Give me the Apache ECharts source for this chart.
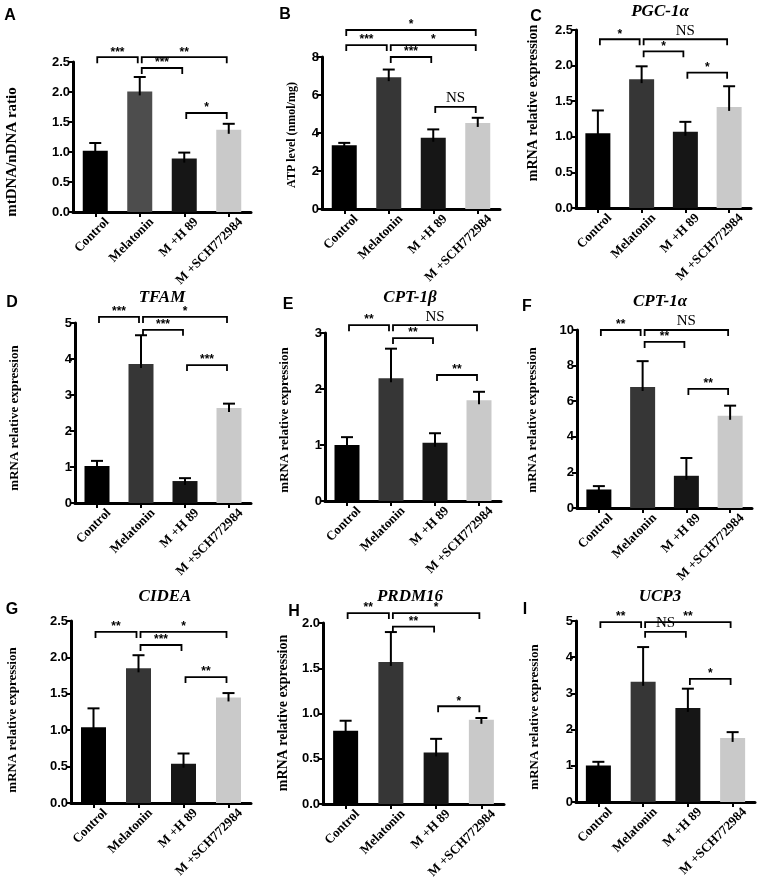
<!DOCTYPE html>
<html><head><meta charset="utf-8">
<script src="https://cdn.jsdelivr.net/npm/echarts@6/dist/echarts.min.js"></script>
<style>html,body{margin:0;padding:0;background:#fff}#c{width:760px;height:887px}</style>
</head><body><div id="c"></div>
<script>
// ---------- data ----------
const categories = ['Control', 'Melatonin', 'M +H 89', 'M +SCH772984'];

const meanA = [1.02, 2.01, 0.89, 1.37]; const semA = [0.13, 0.24, 0.10, 0.10];
const meanB = [3.36, 6.94, 3.75, 4.53]; const semB = [0.12, 0.40, 0.44, 0.27];
const meanC = [1.05, 1.81, 1.07, 1.42]; const semC = [0.32, 0.18, 0.14, 0.29];
const meanD = [1.03, 3.86, 0.61, 2.64]; const semD = [0.14, 0.80, 0.08, 0.12];
const meanE = [1.00, 2.19, 1.04, 1.80]; const semE = [0.14, 0.53, 0.17, 0.15];
const meanF = [1.04, 6.80, 1.81, 5.18]; const semF = [0.19, 1.45, 1.00, 0.57];
const meanG = [1.04, 1.85, 0.54, 1.45]; const semG = [0.26, 0.18, 0.14, 0.06];
const meanH = [0.81, 1.57, 0.57, 0.93]; const semH = [0.11, 0.33, 0.15, 0.02];
const meanI = [1.01, 3.32, 2.60, 1.77]; const semI = [0.10, 0.96, 0.53, 0.16];

// significance brackets: [from category, to category, height (axis units), label]
const sigA = [[0, 1, 2.58, '***'], [1, 3, 2.58, '**'], [1, 2, 2.40, '***'], [2, 3, 1.65, '*']];
const sigB = [[0, 3, 9.42, '*'], [0, 1, 8.63, '***'], [1, 3, 8.63, '*'], [1, 2, 8.0, '***'], [2, 3, 5.37, 'NS']];
const sigC = [[0, 1, 2.37, '*'], [1, 3, 2.37, 'NS'], [1, 2, 2.20, '*'], [2, 3, 1.90, '*']];
const sigD = [[0, 1, 5.17, '***'], [1, 3, 5.17, '*'], [1, 2, 4.81, '***'], [2, 3, 3.83, '***']];
const sigE = [[0, 1, 3.14, '**'], [1, 3, 3.14, 'NS'], [1, 2, 2.91, '**'], [2, 3, 2.25, '**']];
const sigF = [[0, 1, 10.0, '**'], [1, 3, 10.0, 'NS'], [1, 2, 9.33, '**'], [2, 3, 6.69, '**']];
const sigG = [[0, 1, 2.35, '**'], [1, 3, 2.35, '*'], [1, 2, 2.17, '***'], [2, 3, 1.73, '**']];
const sigH = [[0, 1, 2.11, '**'], [1, 3, 2.11, '*'], [1, 2, 1.96, '**'], [2, 3, 1.08, '*']];
const sigI = [[0, 1, 4.97, '**'], [1, 3, 4.97, '**'], [1, 2, 4.70, 'NS'], [2, 3, 3.40, '*']];

const yMax = [2.5, 8, 2.5, 5, 3, 10, 2.5, 2, 5];
const yStep = [0.5, 2, 0.5, 1, 1, 2, 0.5, 0.5, 1];
const yDecimals = [1, 0, 1, 0, 0, 0, 1, 1, 0];

const panelLetters = ['A', 'B', 'C', 'D', 'E', 'F', 'G', 'H', 'I'];
const geneTitles = ['', '', 'PGC-1α', 'TFAM', 'CPT-1β', 'CPT-1α', 'CIDEA', 'PRDM16', 'UCP3'];
const yNames = ['mtDNA/nDNA ratio', 'ATP level (nmol/mg)', 'mRNA relative expression',
  'mRNA relative expression', 'mRNA relative expression', 'mRNA relative expression',
  'mRNA relative expression', 'mRNA relative expression', 'mRNA relative expression'];

// ---------- layout ----------
const means = [meanA, meanB, meanC, meanD, meanE, meanF, meanG, meanH, meanI];
const sems = [semA, semB, semC, semD, semE, semF, semG, semH, semI];
const sigs = [sigA, sigB, sigC, sigD, sigE, sigF, sigG, sigH, sigI];

const grids = [
  {left: 73, top: 62, width: 178, height: 150},
  {left: 322, top: 57, width: 178, height: 152},
  {left: 576, top: 30, width: 175, height: 178},
  {left: 75, top: 323, width: 176, height: 180},
  {left: 325, top: 333, width: 176, height: 168},
  {left: 577, top: 330, width: 175, height: 178},
  {left: 71, top: 621, width: 180, height: 182},
  {left: 323, top: 623, width: 181, height: 181},
  {left: 576, top: 621, width: 179, height: 181}
];
const letterPos = [[10, 16], [285, 15], [536, 17], [12, 303], [288, 305], [527, 307], [12, 610], [294, 612], [525, 610]];
const titlePos = [[0, 0], [0, 0], [660, 12], [162, 298], [410, 298], [660, 302], [165, 597], [410, 597], [660, 597]];
const yNamePos = [[12, 152], [292, 135], [533, 103], [15, 418], [285, 420], [533, 420], [13, 720], [283, 713], [535, 717]];
const yNameSize = [15, 12, 14, 13, 13, 13, 13, 14, 13];

const melColor = ['#4d4d4d', '#363636', '#363636', '#363636', '#363636', '#363636', '#363636', '#363636', '#363636'];
const barColors = (p) => ['#000000', melColor[p], '#161616', '#c9c9c9'];

const serif = '"Liberation Serif", "Times New Roman", serif';
const sans = '"Liberation Sans", Arial, sans-serif';

function renderErr(params, api) {
  const i = api.value(0), m = api.value(1), t = api.value(2);
  const a = api.coord([i, m]), b = api.coord([i, t]);
  return {type: 'group', children: [
    {type: 'line', shape: {x1: a[0], y1: a[1] + 4, x2: b[0], y2: b[1]}, style: {stroke: '#000', lineWidth: 2}},
    {type: 'line', shape: {x1: b[0] - 6, y1: b[1], x2: b[0] + 6, y2: b[1]}, style: {stroke: '#000', lineWidth: 2}}
  ]};
}
function mkBracket(list) {
  return function (params, api) {
    const s = list[params.dataIndex];
    const p1 = api.coord([s[0], s[2]]), p2 = api.coord([s[1], s[2]]);
    const x1 = p1[0] + 2, x2 = p2[0] - 2, y = p1[1];
    const isNS = s[3] === 'NS';
    return {type: 'group', children: [
      {type: 'polyline', shape: {points: [[x1, y + 6], [x1, y], [x2, y], [x2, y + 6]]},
        style: {stroke: '#000', lineWidth: 1.8, fill: null}},
      {type: 'text', x: (x1 + x2) / 2, y: isNS ? y - 1 : y + 1,
        style: {text: s[3], textAlign: 'center', textVerticalAlign: 'bottom',
          font: isNS ? 'normal 15px ' + serif : 'bold 12px ' + sans, fill: '#000'}}
    ]};
  };
}

const option = {animation: false, backgroundColor: '#fff', grid: [], xAxis: [], yAxis: [], series: [], graphic: []};

for (let p = 0; p < 9; p++) {
  option.grid.push(Object.assign({containLabel: false}, grids[p]));
  option.xAxis.push({
    type: 'category', gridIndex: p, data: categories,
    axisLine: {show: true, lineStyle: {color: '#000', width: 3}},
    axisTick: {show: true, alignWithLabel: true, length: 5, lineStyle: {color: '#000', width: 2}},
    axisLabel: {interval: 0, rotate: 45, margin: 20, padding: [0, -17, 0, 0], color: '#000',
      fontFamily: serif, fontWeight: 'bold', fontSize: 13},
    splitLine: {show: false}
  });
  option.yAxis.push({
    type: 'value', gridIndex: p, min: 0, max: yMax[p], interval: yStep[p],
    axisLine: {show: true, lineStyle: {color: '#000', width: 3}},
    axisTick: {show: true, length: 5, lineStyle: {color: '#000', width: 2}},
    axisLabel: {margin: 3, color: '#000', fontFamily: sans, fontWeight: 'bold', fontSize: 13,
      formatter: (v) => v.toFixed(yDecimals[p])},
    splitLine: {show: false}
  });
  const cols = barColors(p);
  option.series.push({
    type: 'bar', xAxisIndex: p, yAxisIndex: p, barWidth: 25,
    data: means[p].map((v, i) => ({value: v, itemStyle: {color: cols[i]}}))
  });
  option.series.push({
    type: 'custom', xAxisIndex: p, yAxisIndex: p, z: 5, renderItem: renderErr,
    data: means[p].map((v, i) => [i, v, v + sems[p][i]])
  });
  option.series.push({
    type: 'custom', xAxisIndex: p, yAxisIndex: p, z: 5, clip: false, renderItem: mkBracket(sigs[p]),
    data: sigs[p].map(s => [s[0], s[2]])
  });
  option.graphic.push({type: 'text', x: letterPos[p][0], y: letterPos[p][1],
    style: {text: panelLetters[p], textAlign: 'center', textVerticalAlign: 'middle', font: 'bold 16px ' + sans, fill: '#000'}});
  if (geneTitles[p]) {
    option.graphic.push({type: 'text', x: titlePos[p][0], y: titlePos[p][1],
      style: {text: geneTitles[p], textAlign: 'center', textVerticalAlign: 'middle', font: 'italic bold 17px ' + serif, fill: '#000'}});
  }
  option.graphic.push({type: 'text', x: yNamePos[p][0], y: yNamePos[p][1], rotation: Math.PI / 2,
    style: {text: yNames[p], textAlign: 'center', textVerticalAlign: 'middle', font: 'bold ' + yNameSize[p] + 'px ' + serif, fill: '#000'}});
}

const chart = echarts.init(document.getElementById('c'), null, {renderer: 'canvas'});
chart.setOption(option);
</script>
</body></html>
